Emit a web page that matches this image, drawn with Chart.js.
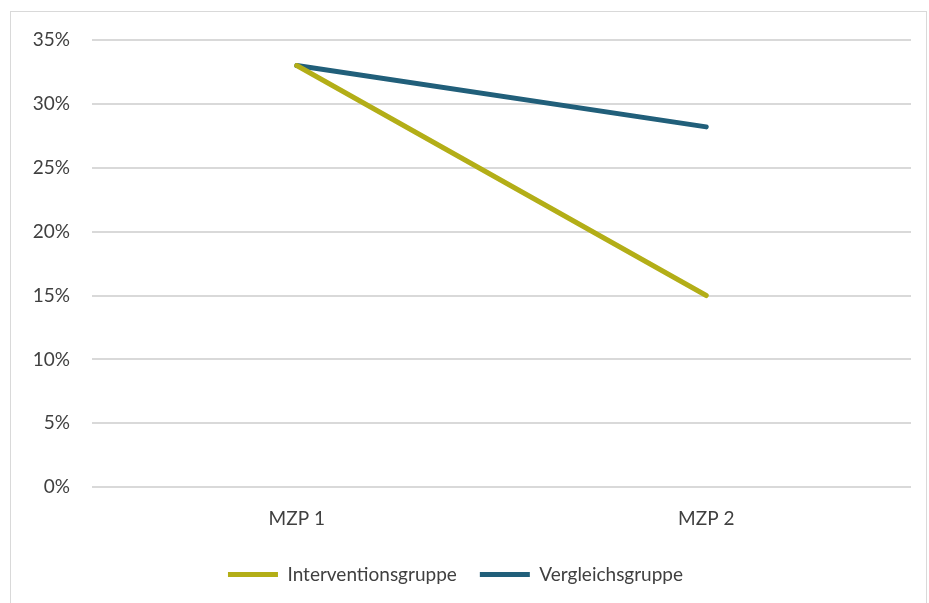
<!DOCTYPE html>
<html>
<head>
<meta charset="utf-8">
<script src="https://cdn.jsdelivr.net/npm/chart.js@4/dist/chart.umd.min.js"></script>
<style>
  html, body { margin: 0; padding: 0; background: #fff; }
  #rahmen { position: absolute; left: 10px; top: 11px; width: 915px; height: 600px; border: 1px solid #d9d9d9; }
  #wrap { position: absolute; left: 0; top: 0; width: 929px; height: 603px; }
</style>
</head>
<body>
<div id="rahmen"></div>
<div id="wrap"><canvas id="chart"></canvas></div>
<script>
// Daten
const kategorien = ['MZP 1', 'MZP 2'];
const intervention = [33, 15];
const vergleich = [33, 28.2];

const schrift = { family: 'Lato, "Open Sans", sans-serif', size: 19 };
const textFarbe = '#404040';

new Chart(document.getElementById('chart'), {
    type: 'line',
    data: {
        labels: kategorien,
        datasets: [
            { label: 'Interventionsgruppe', data: intervention, borderColor: '#b3ae17', backgroundColor: '#b3ae17',
              borderWidth: 5, borderCapStyle: 'round', pointRadius: 0, pointStyle: 'line', tension: 0 },
            { label: 'Vergleichsgruppe', data: vergleich, borderColor: '#215f7a', backgroundColor: '#215f7a',
              borderWidth: 5, borderCapStyle: 'round', pointRadius: 0, pointStyle: 'line', tension: 0 }
        ]
    },
    options: {
        responsive: true,
        maintainAspectRatio: false,
        animation: false,
        layout: { padding: { top: 40, right: 18, left: 0, bottom: 9 } },
        plugins: {
            legend: {
                position: 'bottom',
                labels: {
                    usePointStyle: true,
                    pointStyleWidth: 50,
                    padding: 23,
                    color: textFarbe,
                    font: schrift
                }
            },
            tooltip: { enabled: false }
        },
        scales: {
            y: {
                min: 0, max: 35,
                ticks: { stepSize: 5, padding: 22, color: textFarbe, font: schrift, callback: v => v + '%' },
                grid: { color: '#d9d9d9', lineWidth: 2, drawTicks: false },
                border: { display: false },
                afterFit: s => { s.width = 92; }
            },
            x: {
                offset: true,
                ticks: { padding: 12, color: textFarbe, font: schrift },
                grid: { display: false },
                border: { display: false }
            }
        }
    }
});
</script>
</body>
</html>
